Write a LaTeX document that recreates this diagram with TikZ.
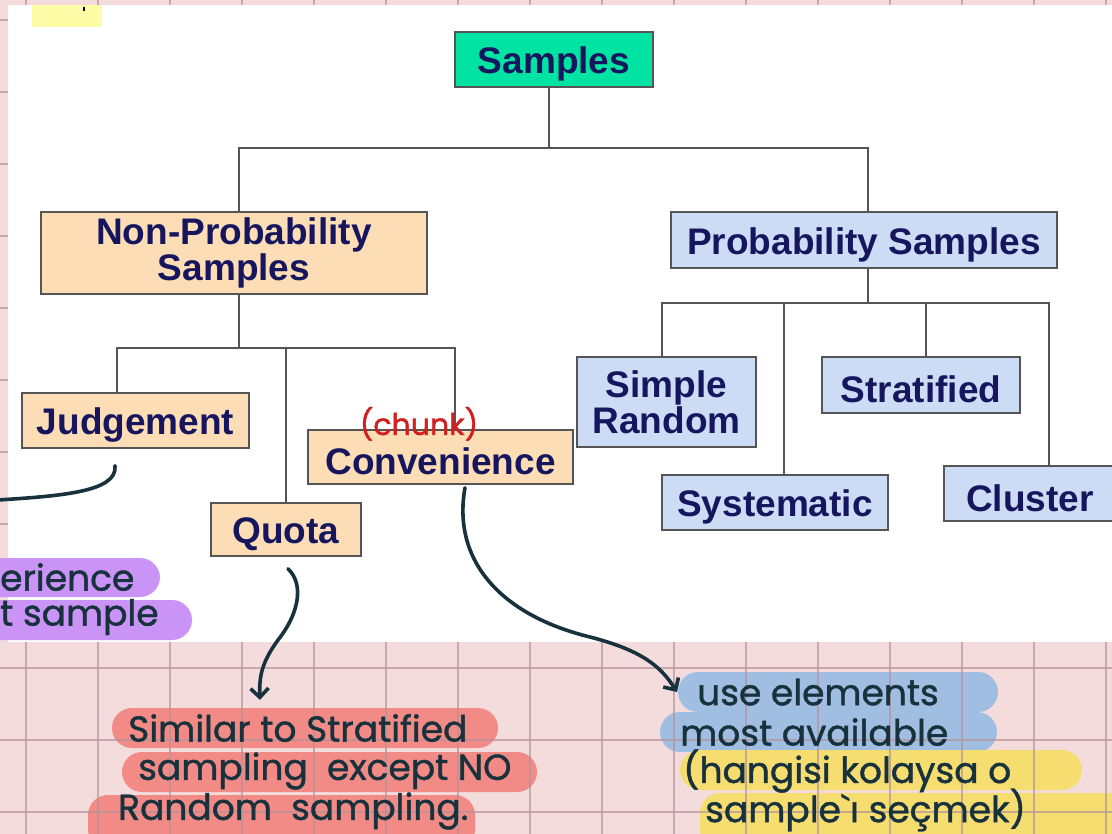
\documentclass[tikz,border=0pt]{standalone}
\usepackage{fontspec}
\setmainfont{Liberation Sans}
\newfontfamily\handfont{Poppins}[FakeBold=1.2]
\usetikzlibrary{arrows.meta}
\definecolor{gridbg}{HTML}{F4DCDD}
\definecolor{gridln}{HTML}{B3939A}
\definecolor{boxtxt}{HTML}{16165E}
\definecolor{boxline}{HTML}{555555}
\definecolor{green1}{HTML}{00E3A2}
\definecolor{peach}{HTML}{FCDDB6}
\definecolor{lblue}{HTML}{CCDCF4}
\definecolor{hlred}{HTML}{F28B86}
\definecolor{hlblue}{HTML}{A0BEE1}
\definecolor{hlyellow}{HTML}{F6DD70}
\definecolor{hlpurple}{HTML}{C994F6}
\definecolor{inkc}{HTML}{18323D}
\definecolor{redink}{HTML}{D21E1E}
\definecolor{topyellow}{HTML}{FFFCA8}
\newcommand{\lowtxt}[1]{\raisebox{-4.5pt}[\height][\depth]{#1}}
\tikzset{
  box/.style={draw=boxline, line width=1.5pt, inner sep=0pt,
    text=boxtxt, font=\fontsize{37}{36}\selectfont\bfseries},
  conn/.style={draw=boxline, line width=1.5pt},
  hand/.style={inner sep=0pt, anchor=west, text=inkc, font=\handfont\fontsize{36}{38}\selectfont},
  ink/.style={draw=inkc, line width=3.6pt, line cap=round},
  gridline/.style={draw=gridln, line width=1.3pt},
}
\begin{document}
\begin{tikzpicture}[x=1pt,y=-1pt]
\useasboundingbox (0,0) rectangle (1112,834);
% paper
\fill[gridbg] (0,0) rectangle (1112,834);
% highlights on the pink paper
\fill[hlred, rounded corners=20pt] (112,708) rectangle (498,748);
\fill[hlred, rounded corners=20pt] (122,752) rectangle (537,792);
\fill[hlred, rounded corners=20pt] (88,795) rectangle (475,850);
\fill[hlblue, rounded corners=20pt] (678,672) rectangle (998,712);
\fill[hlblue, rounded corners=20pt] (660,712) rectangle (997,752);
\fill[hlyellow, rounded corners=20pt] (680,750) rectangle (1082,790);
\fill[hlyellow, rounded corners=20pt] (700,793) rectangle (1140,850);
% grid
\foreach \x in {26,98,...,1110} \draw[gridline, opacity=0.7] (\x,0) -- (\x,834);
\foreach \y in {20,92,...,834} \draw[gridline, opacity=0.7] (0,\y) -- (1112,\y);
% white sheet
\fill[white] (8,5) rectangle (1112,642);
\fill[topyellow] (32,5) rectangle (102,27);
\draw[black, line width=2pt] (84,7) -- (84,11);
% purple highlights
\fill[hlpurple, rounded corners=20pt] (-30,558) rectangle (160,597);
\fill[hlpurple, rounded corners=20pt] (-30,600) rectangle (192,640);

% boxes
\node[box, fill=green1, minimum width=198pt, minimum height=55pt] (samples) at (554,59.5) {\lowtxt{Samples}};
\node[box, align=center, fill=peach, minimum width=386pt, minimum height=82pt] (nonprob) at (234,253) {Non-Probability\\Samples};
\node[box, fill=lblue, minimum width=386pt, minimum height=56pt] (prob) at (864,240) {\lowtxt{Probability Samples}};
\node[box, fill=peach, minimum width=227pt, minimum height=55pt] (judg) at (135.5,420.5) {\lowtxt{Judgement}};
\node[box, fill=peach, minimum width=150pt, minimum height=53pt] (quota) at (286,529.5) {\lowtxt{Quota}};
\node[box, fill=peach, minimum width=265pt, minimum height=54pt] (conv) at (440.5,457) {\lowtxt{Convenience}};
\node[box, align=center, fill=lblue, minimum width=179pt, minimum height=90pt] (simple) at (666.5,402) {Simple\\Random};
\node[box, fill=lblue, minimum width=198pt, minimum height=56pt] (strat) at (921,385) {\lowtxt{Stratified}};
\node[box, fill=lblue, minimum width=226pt, minimum height=55pt] (syst) at (775,502.5) {\lowtxt{Systematic}};
\node[box, fill=lblue, minimum width=172pt, minimum height=55pt] (cluster) at (1030,493.5) {\lowtxt{Cluster}};

% tree connectors
\coordinate (h1) at (549,148);
\coordinate (h2) at (239,348);
\coordinate (h3) at (868,303);
\draw[conn] ([xshift=-5pt]samples.south) -- (h1);
\draw[conn] ([xshift=5pt]nonprob.north) |- (h1) -| ([xshift=4pt]prob.north);
\draw[conn] ([xshift=5pt]nonprob.south) -- (h2);
\draw[conn] ([xshift=-18.5pt]judg.north) |- (h2) -| ([xshift=14.5pt]conv.north);
\draw[conn] (quota.north) -- (quota.north |- h2);
\draw[conn] ([xshift=4pt]prob.south) -- (h3);
\draw[conn] ([xshift=-4.5pt]simple.north) |- (h3) -| ([xshift=19pt]cluster.north);
\coordinate (sy) at ([xshift=9pt]syst.north);
\coordinate (st) at ([xshift=5pt]strat.north);
\draw[conn] (sy) -- (sy |- h3);
\draw[conn] (st) -- (st |- h3);

% handwritten notes
\node[inner sep=0pt, anchor=base, text=redink, font=\handfont\fontsize{30}{32}\selectfont] (chunk) at (419,435) {(chunk)};
\node[hand] (p1) at (0,577) {erience};
\node[hand] (p2) at (0,617) {t sample};
\node[hand] (r1) at (128,728) {Similar to Stratified};
\node[hand] (r2) at (138,771) {sampling\ \ except NO};
\node[hand] (r3) at (118,811) {Random\ \ sampling.};
\node[hand] (b1) at (697,692) {use elements};
\node[hand] (b2) at (680,732) {most\ available};
\node[hand] (y1) at (683,771) {(hangisi kolaysa o};
\node[hand] (y2) at (705,810) {sample`ı seçmek)};

% ink curves
\coordinate (js) at ([xshift=-20.5pt,yshift=-17pt]judg.south);
\coordinate (je) at (-2,500);
\draw[ink] (js) .. controls (118,492) and (60,496) .. (je);
\coordinate (qs) at ([xshift=2pt,yshift=-12pt]quota.south);
\coordinate (qe) at ([xshift=132pt,yshift=14pt]r1.north west);
\draw[ink, -{Straight Barb[length=9pt,width=18pt]}] (qs) .. controls (305,585) and (298,615) .. (278,640) .. controls (262,662) and (259,676) .. (qe);
\coordinate (cs) at ([xshift=24.5pt,yshift=-3pt]conv.south);
\coordinate (ce) at ([xshift=-20pt]b1.west);
\draw[ink, -{Straight Barb[length=9pt,width=18pt]}] (cs) .. controls (452,560) and (500,615) .. (590,637) .. controls (640,650) and (660,665) .. (ce);
\end{tikzpicture}
\end{document}
